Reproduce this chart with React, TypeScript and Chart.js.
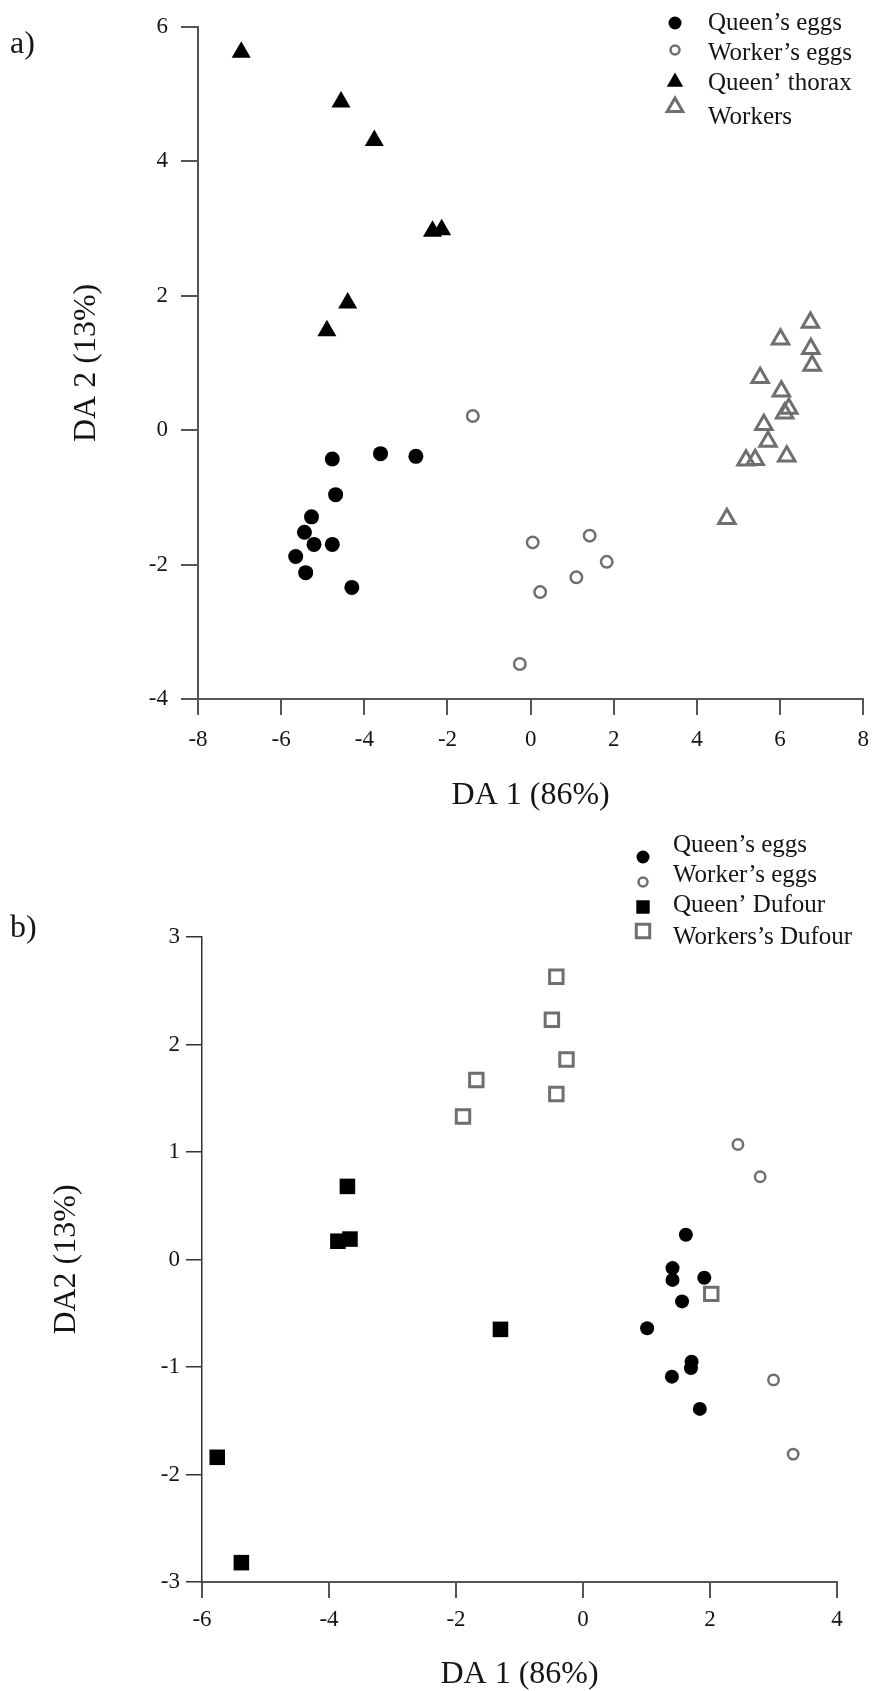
import React, { useEffect, useRef } from 'react';
import { Chart, registerables } from 'chart.js';
import { drawPoint } from 'chart.js/helpers';

Chart.register(...registerables);

const FONT = '"Liberation Serif", "Times New Roman", Times, serif';

type Pt = [number, number];

// ---------- Panel a) data ----------
const aLabels = ['Queen\u2019s eggs', 'Worker\u2019s eggs', 'Queen\u2019 thorax', 'Workers'];
const aQueenEggs: Pt[] = [
  [-4.77, -0.43], [-3.61, -0.35], [-2.76, -0.39], [-4.69, -0.96], [-5.27, -1.29],
  [-5.44, -1.52], [-5.21, -1.7], [-4.77, -1.7], [-5.65, -1.88], [-5.41, -2.12], [-4.3, -2.34],
];
const aWorkerEggs: Pt[] = [
  [-1.39, 0.21], [0.05, -1.67], [1.42, -1.57], [1.83, -1.96], [1.1, -2.19], [0.23, -2.41], [-0.26, -3.48],
];
const aQueenThorax: Pt[] = [
  [-6.96, 5.62], [-4.56, 4.88], [-3.76, 4.31], [-2.36, 2.96], [-2.14, 2.98], [-4.4, 1.89], [-4.9, 1.48],
];
const aWorkers: Pt[] = [
  [6.73, 1.6], [6.01, 1.35], [6.74, 1.21], [6.77, 0.96], [5.52, 0.78], [6.03, 0.58], [6.21, 0.32],
  [6.11, 0.25], [5.61, 0.08], [5.71, -0.17], [6.16, -0.39], [5.18, -0.45], [5.4, -0.44], [4.72, -1.32],
];
const aXTitle = 'DA 1 (86%)';
const aYTitle = 'DA 2 (13%)';

// ---------- Panel b) data ----------
const bLabels = ['Queen\u2019s eggs', 'Worker\u2019s eggs', 'Queen\u2019 Dufour', 'Workers\u2019s Dufour'];
const bQueenEggs: Pt[] = [
  [1.62, 0.23], [1.41, -0.08], [1.41, -0.19], [1.91, -0.17], [1.56, -0.39],
  [1.01, -0.64], [1.71, -0.95], [1.7, -1.01], [1.4, -1.09], [1.84, -1.39],
];
const bWorkerEggs: Pt[] = [[2.44, 1.07], [2.79, 0.77], [3.0, -1.12], [3.31, -1.81]];
const bQueenDufour: Pt[] = [
  [-3.71, 0.68], [-3.86, 0.17], [-3.67, 0.19], [-1.3, -0.65], [-5.76, -1.84], [-5.38, -2.82],
];
const bWorkerDufour: Pt[] = [
  [-0.42, 2.63], [-0.49, 2.23], [-0.26, 1.86], [-1.68, 1.67], [-0.42, 1.54], [-1.89, 1.33], [2.02, -0.32],
];
const bXTitle = 'DA 1 (86%)';
const bYTitle = 'DA2 (13%)';

const toXY = (pts: Pt[]) => pts.map(([x, y]) => ({ x, y }));

type LegendRow = { my: number; ty: number; r: number };
type Spec = {
  height: number;
  padding: { left: number; top: number; right: number; bottom: number };
  yWidth: number;
  xHeight: number;
  x: { min: number; max: number; step: number; pad: number; tick: number; color: string; width: number };
  y: { min: number; max: number; step: number; pad: number; tick: number; color: string; width: number };
  xTitle: string;
  yTitle: string;
  xTitlePad: number;
  yTitlePad: number;
  panel: string;
  panelX: number;
  panelY: number;
  markerX: number;
  textX: number;
  legend: LegendRow[];
  datasets: any[];
};

const GREY = '#6f6f6f';
const TEXT = '#151515';

function overlayPlugin(spec: Spec) {
  return {
    id: 'overlay',
    afterDraw(chart: any) {
      const ctx = chart.ctx as CanvasRenderingContext2D;
      ctx.save();
      ctx.textBaseline = 'middle';
      ctx.textAlign = 'left';
      ctx.fillStyle = TEXT;
      ctx.font = `32px ${FONT}`;
      ctx.fillText(spec.panel, spec.panelX, spec.panelY);
      ctx.font = `25px ${FONT}`;
      chart.data.datasets.forEach((ds: any, i: number) => {
        const row = spec.legend[i];
        ctx.fillStyle = ds.backgroundColor;
        ctx.strokeStyle = ds.borderColor;
        ctx.lineWidth = ds.borderWidth;
        ctx.lineJoin = 'miter';
        drawPoint(ctx, { pointStyle: ds.pointStyle, radius: row.r, borderWidth: ds.borderWidth, rotation: 0 } as any, spec.markerX, row.my);
        ctx.fillStyle = TEXT;
        ctx.fillText(ds.label, spec.textX, row.ty);
      });
      ctx.restore();
    },
  };
}

function axis(a: Spec['x'], title: string, titlePad: any, fit: (s: any) => void) {
  return {
    type: 'linear' as const,
    min: a.min,
    max: a.max,
    ticks: {
      stepSize: a.step,
      autoSkip: false,
      maxRotation: 0,
      padding: a.pad,
      color: TEXT,
      font: { family: FONT, size: 23 },
    },
    grid: {
      drawOnChartArea: false,
      drawTicks: true,
      tickLength: a.tick,
      color: a.color,
      lineWidth: a.width,
    },
    border: { display: true, color: a.color, width: a.width },
    title: {
      display: true,
      text: title,
      color: TEXT,
      font: { family: FONT, size: 32, lineHeight: 1 },
      padding: titlePad,
    },
    afterFit: fit,
  };
}

function buildConfig(spec: Spec): any {
  return {
    type: 'scatter',
    data: { datasets: spec.datasets },
    options: {
      animation: false,
      responsive: false,
      devicePixelRatio: 1,
      events: [],
      layout: { padding: spec.padding },
      plugins: { legend: { display: false }, tooltip: { enabled: false } },
      scales: {
        x: axis(spec.x, spec.xTitle, { top: 0, bottom: spec.xTitlePad }, (s: any) => { s.height = spec.xHeight; }),
        y: axis(spec.y, spec.yTitle, { top: spec.yTitlePad, bottom: 0 }, (s: any) => { s.width = spec.yWidth; }),
      },
    },
    plugins: [overlayPlugin(spec)],
  };
}

const specA: Spec = {
  height: 830,
  padding: { left: 0, top: 21, right: 10, bottom: 0 },
  yWidth: 198,
  xHeight: 131,
  x: { min: -8, max: 8, step: 2, pad: 11, tick: 16, color: '#555', width: 2 },
  y: { min: -4, max: 6, step: 2, pad: 13, tick: 17, color: '#555', width: 2 },
  xTitle: aXTitle,
  yTitle: aYTitle,
  xTitlePad: 18,
  yTitlePad: 71,
  panel: 'a)',
  panelX: 10,
  panelY: 45,
  markerX: 675,
  textX: 708,
  legend: [
    { my: 23, ty: 23, r: 6.5 },
    { my: 50, ty: 53, r: 4.5 },
    { my: 82, ty: 83, r: 9.5 },
    { my: 107, ty: 117, r: 9 },
  ],
  datasets: [
    { label: aLabels[0], data: toXY(aQueenEggs), pointStyle: 'circle', pointRadius: 7.5, backgroundColor: '#000', borderColor: '#000', borderWidth: 0 },
    { label: aLabels[1], data: toXY(aWorkerEggs), pointStyle: 'circle', pointRadius: 5.75, backgroundColor: 'rgba(255,255,255,0)', borderColor: GREY, borderWidth: 2.5 },
    { label: aLabels[2], data: toXY(aQueenThorax), pointStyle: 'triangle', pointRadius: 11, backgroundColor: '#000', borderColor: '#000', borderWidth: 0 },
    { label: aLabels[3], data: toXY(aWorkers), pointStyle: 'triangle', pointRadius: 9.5, backgroundColor: 'rgba(255,255,255,0)', borderColor: GREY, borderWidth: 3 },
  ],
};

const specB: Spec = {
  height: 861,
  padding: { left: 0, top: 107, right: 43, bottom: 0 },
  yWidth: 202,
  xHeight: 109,
  x: { min: -6, max: 4, step: 2, pad: 8, tick: 16, color: '#555', width: 2 },
  y: { min: -3, max: 3, step: 1, pad: 6, tick: 16, color: '#333', width: 1.5 },
  xTitle: bXTitle,
  yTitle: bYTitle,
  xTitlePad: 0,
  yTitlePad: 51,
  panel: 'b)',
  panelX: 10,
  panelY: 99,
  markerX: 643,
  textX: 673,
  legend: [
    { my: 27, ty: 15, r: 6.5 },
    { my: 52, ty: 45, r: 4.5 },
    { my: 77, ty: 75, r: 9.5 },
    { my: 101, ty: 107, r: 9.5 },
  ],
  datasets: [
    { label: bLabels[0], data: toXY(bQueenEggs), pointStyle: 'circle', pointRadius: 7, backgroundColor: '#000', borderColor: '#000', borderWidth: 0 },
    { label: bLabels[1], data: toXY(bWorkerEggs), pointStyle: 'circle', pointRadius: 5.2, backgroundColor: 'rgba(255,255,255,0)', borderColor: GREY, borderWidth: 2.5 },
    { label: bLabels[2], data: toXY(bQueenDufour), pointStyle: 'rect', pointRadius: 11, backgroundColor: '#000', borderColor: '#000', borderWidth: 0 },
    { label: bLabels[3], data: toXY(bWorkerDufour), pointStyle: 'rect', pointRadius: 9.5, backgroundColor: 'rgba(255,255,255,0)', borderColor: GREY, borderWidth: 3 },
  ],
};

function Panel({ spec, top }: { spec: Spec; top: number }) {
  const ref = useRef<HTMLCanvasElement | null>(null);
  useEffect(() => {
    if (!ref.current) return;
    const chart = new Chart(ref.current, buildConfig(spec));
    return () => chart.destroy();
  }, [spec]);
  return (
    <canvas
      ref={ref}
      width={880}
      height={spec.height}
      style={{ position: 'absolute', left: 0, top, width: 880, height: spec.height, display: 'block' }}
    />
  );
}

export default function App() {
  return (
    <div style={{ position: 'absolute', left: 0, top: 0, width: 880, height: 1691, background: '#fff', overflow: 'hidden' }}>
      <Panel spec={specA} top={0} />
      <Panel spec={specB} top={830} />
    </div>
  );
}
